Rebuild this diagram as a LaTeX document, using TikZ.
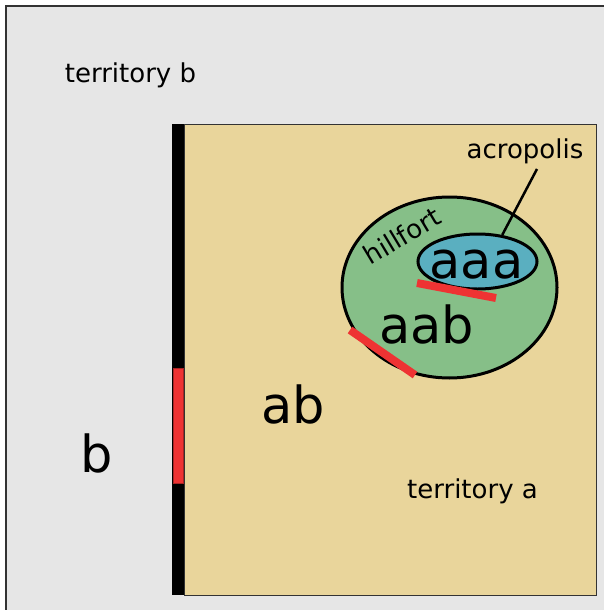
\documentclass[tikz,border=0pt]{standalone}
\usepackage{fontspec}
\setmainfont{DejaVu Sans}
\usetikzlibrary{shapes.geometric}
\definecolor{bggray}{HTML}{E6E6E6}
\definecolor{tan}{HTML}{E9D59B}
\definecolor{hillgreen}{HTML}{86BF88}
\definecolor{acroblue}{HTML}{5AAFC0}
\definecolor{wallred}{HTML}{EE3333}
\definecolor{edge}{HTML}{333333}
\tikzset{
  small/.style={font=\fontsize{26}{30}\selectfont, inner sep=0pt, anchor=base},
  big/.style={font=\fontsize{51}{56}\selectfont, inner sep=0pt, anchor=base},
  wall/.style={draw=wallred, line width=8pt},
  area/.style={ellipse, draw=black, line width=3pt, inner sep=0pt},
}
\begin{document}
\begin{tikzpicture}[x=1pt,y=-1pt]
\useasboundingbox (0,0) rectangle (604,610);
\begin{scope}
\clip (0,0) rectangle (604,610);
\draw[fill=bggray, draw=edge, line width=2pt] (6,6) rectangle (640,640);
\end{scope}
\draw[fill=tan, draw=edge, line width=1pt] (184,124) rectangle (596,595);
\fill[black] (172,124) rectangle (184,595);
\draw[fill=wallred, draw=wallred!70!black, line width=0.5pt] (173,368) rectangle (183,483);
\node[area, fill=hillgreen, minimum width=215pt, minimum height=181pt] (hill) at (449.5,287.5) {};
\node[area, fill=acroblue, minimum width=119pt, minimum height=55pt] (acro) at (477.5,261.5) {};
\node[small] (tb) at (130.5,82) {territory b};
\node[small] (ta) at (472.5,498) {territory a};
\node[small] (acrolabel) at (525,158) {acropolis};
\node[small, rotate=31] (hilllabel) at (407,244) {hillfort};
\node[big] (aaa) at (476.5,278) {aaa};
\node[big] (aab) at (426.5,343) {aab};
\node[big] (ab) at (293,423) {ab};
\node[big] (b) at (96.5,472) {b};
\coordinate (acrotop) at (537,169);
\draw[line width=2.5pt] (acrotop) -- (acro.47);
\coordinate (w1a) at (417,283);
\coordinate (w1b) at (496,298);
\coordinate (w2a) at (350,330);
\coordinate (w2b) at (415,375);
\draw[wall] (w1a) -- (w1b);
\draw[wall] (w2a) -- (w2b);
\end{tikzpicture}
\end{document}
